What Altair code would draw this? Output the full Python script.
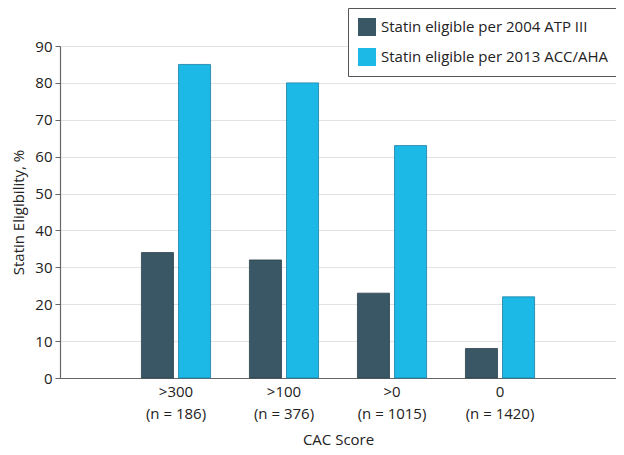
import altair as alt
import pandas as pd

categories = [">300|(n = 186)", ">100|(n = 376)", ">0|(n = 1015)", "0|(n = 1420)"]
series = ["Statin eligible per 2004 ATP III", "Statin eligible per 2013 ACC/AHA"]
atp_2004 = [34, 32, 23, 8]
acc_2013 = [85, 80, 63, 22]
colors = ["#3a5765", "#1db9e6"]
strokes = ["#2c434e", "#1a7fa3"]

rows = []
for c, a, b in zip(categories, atp_2004, acc_2013):
    rows.append({"cat": c, "series": series[0], "value": a})
    rows.append({"cat": c, "series": series[1], "value": b})
df = pd.DataFrame(rows)

FONT = "Open Sans"

chart = alt.Chart(df).mark_bar(strokeWidth=0.8).encode(
    x=alt.X("cat:N", sort=categories, title="CAC Score",
            scale=alt.Scale(paddingInner=0.36, paddingOuter=0.754),
            axis=alt.Axis(labelExpr="split(datum.value, '|')", labelAngle=0,
                          ticks=False, labelPadding=6, labelLineHeight=22,
                          titlePadding=11, domainColor="#666666")),
    xOffset=alt.XOffset("series:N", sort=series,
                        scale=alt.Scale(paddingInner=0.135, paddingOuter=0)),
    y=alt.Y("value:Q", title="Statin Eligibility, %",
            scale=alt.Scale(domain=[0, 90], nice=False),
            axis=alt.Axis(values=list(range(0, 91, 10)), tickSize=5,
                          tickColor="#666666", domainColor="#666666",
                          gridColor="#e2e2e2", labelPadding=3, titlePadding=8)),
    color=alt.Color("series:N", sort=series,
                    scale=alt.Scale(domain=series, range=colors),
                    legend=alt.Legend(title=None, orient="none", legendX=288, legendY=-38,
                                      symbolType="square", symbolSize=324,
                                      symbolStrokeWidth=0, labelOffset=5,
                                      rowPadding=12, padding=10,
                                      strokeColor="#555555", fillColor="white",
                                      labelFontSize=15, labelColor="#222222",
                                      labelFont=FONT, labelLimit=400)),
    stroke=alt.Stroke("series:N", sort=series,
                      scale=alt.Scale(domain=series, range=strokes), legend=None),
).properties(
    width=556, height=332,
    autosize=alt.AutoSizeParams(type="none"),
    padding={"left": 52, "top": 38, "right": 0, "bottom": 69},
).configure_view(
    stroke=None
).configure_axis(
    labelFont=FONT, titleFont=FONT, labelFontSize=15, titleFontSize=15,
    labelColor="#222222", titleColor="#222222", titleFontWeight="normal",
    grid=True, domainWidth=1.2
).configure_axisX(grid=False)

chart.save("out.html", embed_options={"renderer": "svg", "actions": False})
